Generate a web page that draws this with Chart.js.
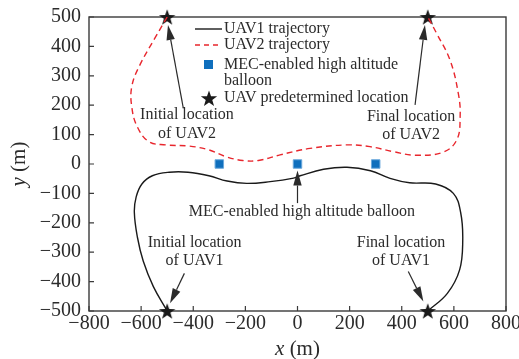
<!DOCTYPE html>
<html>
<head>
<meta charset="utf-8">
<script src="https://cdn.jsdelivr.net/npm/chart.js@4.4.0/dist/chart.umd.min.js"></script>
<style>
  html, body { margin: 0; padding: 0; background: #fff; }
</style>
</head>
<body>
<canvas id="traj" width="519" height="359"></canvas>
<script>
// trajectory samples (metres)
const uav1X = [-500, -553, -592, -614, -626, -619, -597, -557, -492, -420, -340, -270, -195, -105, -15, 10, 100, 190, 280, 355, 430, 530, 598, 626, 634, 622, 575, 500];
const uav1Y = [-500, -417, -330, -250, -165, -112, -68, -40, -28, -28, -40, -58, -66, -60, -48, -40, -18, -11, -23, -49, -64, -68, -100, -165, -260, -360, -440, -500];

const uav2X = [-500, -544, -608, -636, -636, -615, -570, -506, -416, -340, -275, -210, -150, -67, 48, 189, 278, 368, 450, 558, 611, 624, 617, 585, 534, 500];
const uav2Y = [500, 433, 331, 263, 195, 127, 76, 65, 61, 48, 25, 12, 12, 31, 53, 65, 59, 42, 30, 40, 82, 161, 240, 354, 444, 500];

const balloonX = [-300, 0, 300];
const balloonY = [0, 0, 0];

const waypointX = [-500, 500, -500, 500];
const waypointY = [500, 500, -500, -500];

const xTicks = [-800, -600, -400, -200, 0, 200, 400, 600, 800];
const yTicks = [-500, -400, -300, -200, -100, 0, 100, 200, 300, 400, 500];

const seriesNames = ['UAV1 trajectory', 'UAV2 trajectory', 'MEC-enabled high altitude balloon', 'UAV predetermined location'];

const FONT = '"Liberation Serif", "Times New Roman", serif';
const INK = '#2b2b2b';
const RED = '#e8262d';
const BLUE = '#0f6fbd';

const toPts = (xs, ys) => xs.map((x, i) => ({ x: x, y: ys[i] }));
const minus = v => (v < 0 ? '\u2212' + Math.abs(v) : '' + v);

function starPath(ctx, cx, cy, R) {
  const r = R * 0.4;
  ctx.beginPath();
  for (let i = 0; i < 10; i++) {
    const a = -Math.PI / 2 + i * Math.PI / 5;
    const rr = i % 2 ? r : R;
    ctx.lineTo(cx + rr * Math.cos(a), cy + rr * Math.sin(a));
  }
  ctx.closePath();
}

const starImg = document.createElement('canvas');
starImg.width = starImg.height = 20;
(function () {
  const c = starImg.getContext('2d');
  c.fillStyle = '#1a1a1a';
  starPath(c, 10, 10.8, 8.6);
  c.fill();
})();

// callouts, anchored in data coordinates
const notes = [
  { lines: ['Initial location', 'of UAV2'], x: -424, y: 167, tail: [-438, 189], tip: [-497, 473] },
  { lines: ['Final location', 'of UAV2'], x: 436, y: 161, tail: [451, 201], tip: [489, 473] },
  { lines: ['MEC-enabled high altitude balloon'], x: 17, y: -163, tail: [0, -133], tip: [0, -22] },
  { lines: ['Initial location', 'of UAV1'], x: -395, y: -268, tail: [-434, -372], tip: [-489, -474] },
  { lines: ['Final location', 'of UAV1'], x: 397, y: -268, tail: [425, -366], tip: [483, -468] }
];

function arrow(ctx, x0, y0, x1, y1) {
  const ang = Math.atan2(y1 - y0, x1 - x0);
  const len = 15, half = 4.2;
  const bx = x1 - len * Math.cos(ang), by = y1 - len * Math.sin(ang);
  ctx.beginPath();
  ctx.moveTo(x0, y0);
  ctx.lineTo(bx, by);
  ctx.stroke();
  ctx.beginPath();
  ctx.moveTo(x1, y1);
  ctx.lineTo(bx + half * Math.sin(ang), by - half * Math.cos(ang));
  ctx.lineTo(bx - half * Math.sin(ang), by + half * Math.cos(ang));
  ctx.closePath();
  ctx.fill();
}

const framePlugin = {
  id: 'frame',
  beforeDatasetsDraw(chart) {
    const { ctx, chartArea: a, scales } = chart;
    ctx.save();
    ctx.strokeStyle = '#3a3a3a';
    ctx.lineWidth = 1.4;
    ctx.strokeRect(a.left, a.top, a.right - a.left, a.bottom - a.top);
    ctx.lineWidth = 1.2;
    ctx.beginPath();
    xTicks.forEach(v => {
      const px = scales.x.getPixelForValue(v);
      ctx.moveTo(px, a.bottom);
      ctx.lineTo(px, a.bottom - 5);
    });
    yTicks.forEach(v => {
      const py = scales.y.getPixelForValue(v);
      ctx.moveTo(a.left, py);
      ctx.lineTo(a.left + 5, py);
    });
    ctx.stroke();
    ctx.restore();
  },
  afterDatasetsDraw(chart) {
    const { ctx, chartArea: a, scales } = chart;
    const sx = scales.x, sy = scales.y;
    ctx.save();
    ctx.fillStyle = INK;
    ctx.strokeStyle = INK;
    ctx.lineWidth = 1.2;

    // callouts
    ctx.font = '16px ' + FONT;
    ctx.textAlign = 'center';
    ctx.textBaseline = 'middle';
    notes.forEach(n => {
      const cx = sx.getPixelForValue(n.x);
      const cy = sy.getPixelForValue(n.y);
      n.lines.forEach((t, i) => ctx.fillText(t, cx, cy + i * 18.5));
      arrow(ctx,
        sx.getPixelForValue(n.tail[0]), sy.getPixelForValue(n.tail[1]),
        sx.getPixelForValue(n.tip[0]), sy.getPixelForValue(n.tip[1]));
    });

    // legend
    const lx = a.left + 106, tx = a.left + 135;
    ctx.textAlign = 'left';
    ctx.lineWidth = 1.4;
    ctx.strokeStyle = '#1a1a1a';
    ctx.beginPath(); ctx.moveTo(lx, a.top + 12); ctx.lineTo(lx + 27, a.top + 12); ctx.stroke();
    ctx.strokeStyle = RED;
    ctx.setLineDash([5, 4]);
    ctx.beginPath(); ctx.moveTo(lx, a.top + 28); ctx.lineTo(lx + 27, a.top + 28); ctx.stroke();
    ctx.setLineDash([]);
    ctx.fillStyle = BLUE;
    ctx.fillRect(lx + 9, a.top + 43, 9, 9);
    ctx.fillStyle = '#1a1a1a';
    starPath(ctx, lx + 14, a.top + 82, 8.6);
    ctx.fill();
    ctx.fillStyle = INK;
    ctx.fillText(seriesNames[0], tx, a.top + 12);
    ctx.fillText(seriesNames[1], tx, a.top + 28);
    ctx.fillText('MEC-enabled high altitude', tx, a.top + 48);
    ctx.fillText('balloon', tx, a.top + 64);
    ctx.fillText(seriesNames[3], tx, a.top + 81);

    // axis titles
    const xm = ' (m)';
    ctx.font = 'italic 21px ' + FONT;
    const wi = ctx.measureText('x').width;
    const wy = ctx.measureText('y').width;
    ctx.font = '21px ' + FONT;
    const wr = ctx.measureText(xm).width;
    const xc = (a.left + a.right) / 2;
    ctx.font = 'italic 21px ' + FONT;
    ctx.fillText('x', xc - (wi + wr) / 2, 349);
    ctx.font = '21px ' + FONT;
    ctx.fillText(xm, xc - (wi + wr) / 2 + wi, 349);

    ctx.translate(19, (a.top + a.bottom) / 2);
    ctx.rotate(-Math.PI / 2);
    ctx.font = 'italic 21px ' + FONT;
    ctx.fillText('y', -(wy + wr) / 2, 0);
    ctx.font = '21px ' + FONT;
    ctx.fillText(xm, -(wy + wr) / 2 + wy, 0);
    ctx.restore();
  }
};

new Chart(document.getElementById('traj'), {
  type: 'scatter',
  data: {
    datasets: [
      {
        label: seriesNames[0],
        data: toPts(uav1X, uav1Y),
        showLine: true,
        borderColor: '#1a1a1a',
        borderWidth: 1.4,
        pointRadius: 0,
        tension: 0.4
      },
      {
        label: seriesNames[1],
        data: toPts(uav2X, uav2Y),
        showLine: true,
        borderColor: RED,
        borderDash: [6, 4],
        borderWidth: 1.4,
        pointRadius: 0,
        tension: 0.4
      },
      {
        label: seriesNames[2],
        data: toPts(balloonX, balloonY),
        pointStyle: 'rect',
        pointRadius: 6,
        backgroundColor: BLUE,
        borderColor: '#6aa8dc',
        borderWidth: 1
      },
      {
        label: seriesNames[3],
        data: toPts(waypointX, waypointY),
        pointStyle: starImg,
        clip: false
      }
    ]
  },
  options: {
    responsive: false,
    animation: false,
    devicePixelRatio: 1,
    layout: { padding: { left: 0, right: 13, top: 17, bottom: 0 } },
    plugins: { legend: { display: false }, tooltip: { enabled: false } },
    scales: {
      x: {
        type: 'linear',
        min: -800, max: 800,
        afterBuildTicks: s => { s.ticks = xTicks.map(v => ({ value: v })); },
        afterFit: s => { s.height = 48; s.paddingLeft = 0; s.paddingRight = 0; },
        grid: { display: false, drawTicks: false },
        border: { display: false },
        ticks: { color: INK, font: { family: FONT, size: 20 }, padding: 1, maxRotation: 0, autoSkip: false, callback: minus }
      },
      y: {
        type: 'linear',
        min: -500, max: 500,
        afterBuildTicks: s => { s.ticks = yTicks.map(v => ({ value: v })); },
        afterFit: s => { s.width = 89; s.paddingTop = 0; s.paddingBottom = 0; },
        grid: { display: false, drawTicks: false },
        border: { display: false },
        ticks: { color: INK, font: { family: FONT, size: 20 }, padding: 8, autoSkip: false, callback: minus }
      }
    }
  },
  plugins: [framePlugin]
});
</script>
</body>
</html>
